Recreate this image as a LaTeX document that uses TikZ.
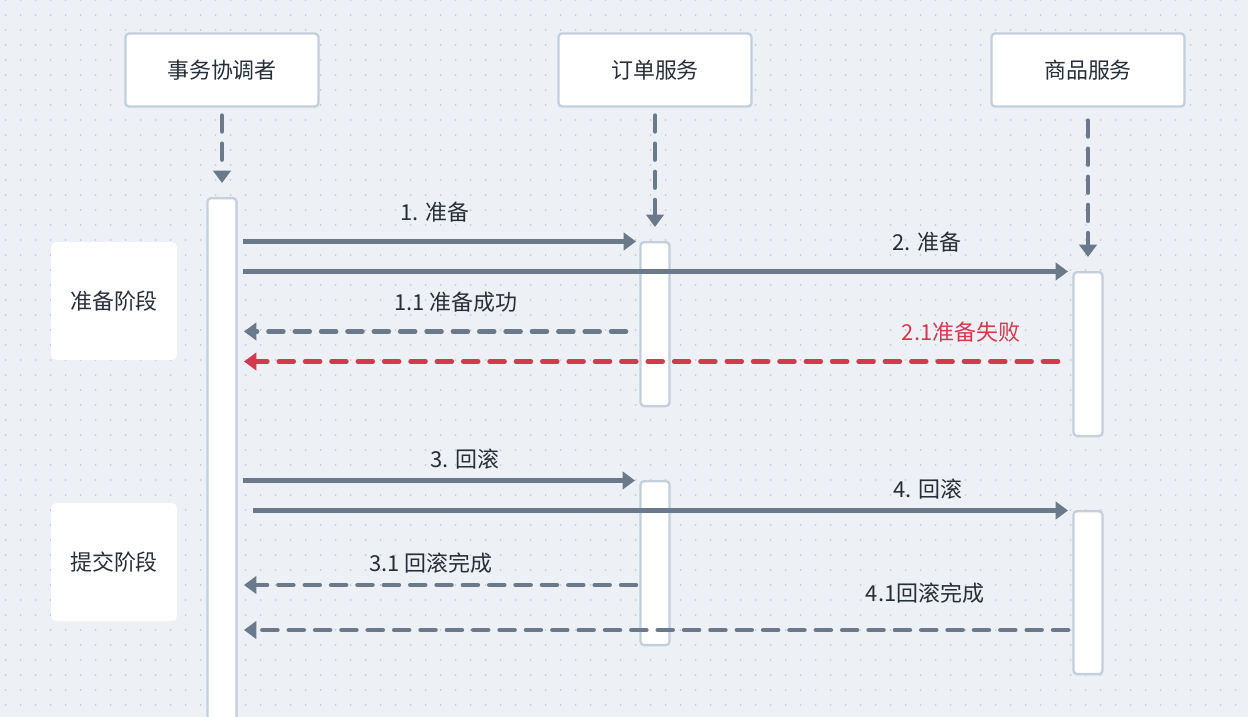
\documentclass[tikz,border=0pt]{standalone}
\usepackage{fontspec}
\setmainfont{Noto Sans CJK SC}
\usetikzlibrary{arrows.meta}

\definecolor{bgcol}{HTML}{EDF0F5}
\definecolor{dotcol}{HTML}{C2CCD8}
\definecolor{edgecol}{HTML}{C3CFDB}
\definecolor{linecol}{HTML}{6A7A8A}
\definecolor{failcol}{HTML}{D43A4E}
\definecolor{txtcol}{HTML}{262E38}

\tikzset{
  txt/.style={font=\fontsize{12.5}{15}\selectfont,text=txtcol},
  actor/.style={txt,draw=edgecol,line width=1.3pt,fill=white,rounded corners=2pt,
    minimum width=3.86cm,minimum height=1.46cm},
  act/.style={draw=edgecol,line width=1.3pt,fill=white,rounded corners=2pt,
    minimum width=0.58cm,anchor=north,inner sep=0pt},
  phase/.style={txt,fill=white,rounded corners=3pt,minimum width=2.52cm,minimum height=2.36cm},
  msg/.style={->,draw=linecol,line width=2.6pt},
  reply/.style={msg,line cap=round,dash pattern=on 8.5pt off 6.5pt},
  life/.style={reply,dash pattern=on 9pt off 7pt},
  lbl/.style={txt,inner sep=0pt},
}

\begin{document}
\begin{tikzpicture}[x=0.02cm,y=-0.02cm,>={Triangle[length=7pt,width=9.8pt]}]
  \useasboundingbox (0,0) rectangle (1248,717);
  \clip (0,0) rectangle (1248,717);
  \fill[bgcol] (0,0) rectangle (1248,717);
  % dot grid
  \foreach \i in {0,...,83}
    \foreach \j in {0,...,48}
      \fill[dotcol] (5.7+15*\i,15*\j) circle (0.55pt);

  % participants
  \node[actor] (coord) at (222,70) {事务协调者};
  \node[actor] (order) at (655,70) {订单服务};
  \node[actor] (goods) at (1088,70) {商品服务};

  % activations
  \node[act,minimum height=10.8cm] (coordAct) at (222,197) {};
  \node[act,minimum height=3.28cm] (orderA) at (655,241) {};
  \node[act,minimum height=3.28cm] (orderB) at (655,480) {};
  \node[act,minimum height=3.28cm] (goodsA) at (1088,271) {};
  \node[act,minimum height=3.26cm] (goodsB) at (1088,510) {};

  % phases
  \node[phase] (prep) at (114,301) {准备阶段};
  \node[phase] (commit) at (114,562) {提交阶段};

  % lifelines
  \draw[life,shorten <=0.16cm,shorten >=0.28cm] (coord) -- (coordAct);
  \draw[life,shorten <=0.16cm,shorten >=0.28cm] (order) -- (orderA);
  \draw[life,shorten <=0.26cm,shorten >=0.28cm] (goods) -- (goodsA);

  % message ends
  \coordinate (a1) at (243,241.5);
  \coordinate (b1) at (636,241.5);
  \coordinate (a2) at (243,271.5);
  \coordinate (b2) at (1068,271.5);
  \coordinate (a3) at (244,331.5);
  \coordinate (b3) at (626,331.5);
  \coordinate (a4) at (244,361.5);
  \coordinate (b4) at (1058,361.5);
  \coordinate (a5) at (243,480.5);
  \coordinate (b5) at (635,480.5);
  \coordinate (a6) at (253,510.5);
  \coordinate (b6) at (1068,510.5);
  \coordinate (a7) at (244,585);
  \coordinate (b7) at (636,585);
  \coordinate (a8) at (244,630);
  \coordinate (b8) at (1068,630);

  \draw[msg] (a1) -- (b1);
  \draw[msg] (a2) -- (b2);
  \draw[reply] (b3) -- (a3);
  \draw[reply,draw=failcol] (b4) -- (a4);
  \draw[msg] (a5) -- (b5);
  \draw[msg] (a6) -- (b6);
  \draw[reply] (b7) -- (a7);
  \draw[reply] (b8) -- (a8);

  % labels
  \node[lbl] (l1) at (435,212) {1. 准备};
  \node[lbl] (l2) at (927,242) {2. 准备};
  \node[lbl] (l3) at (456,302) {1.1 准备成功};
  \node[lbl,text=failcol] (l4) at (961,332) {2.1准备失败};
  \node[lbl] (l5) at (465,459) {3. 回滚};
  \node[lbl] (l6) at (928,489) {4. 回滚};
  \node[lbl] (l7) at (431,563) {3.1 回滚完成};
  \node[lbl] (l8) at (925,593) {4.1回滚完成};
\end{tikzpicture}
\end{document}
